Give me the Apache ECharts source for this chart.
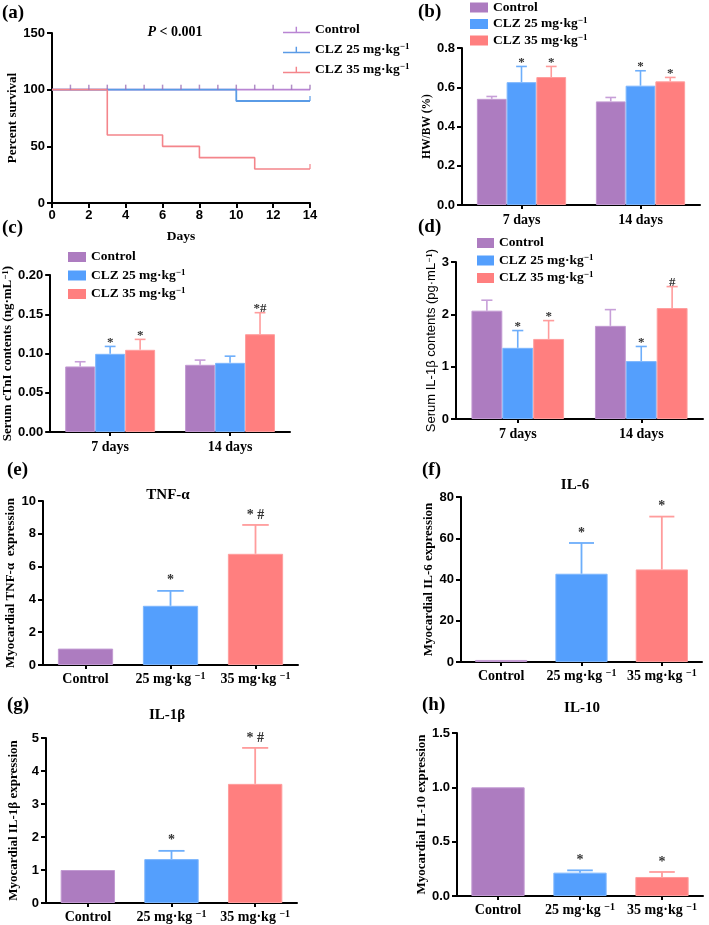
<!DOCTYPE html>
<html><head><meta charset="utf-8">
<script src="https://cdn.jsdelivr.net/npm/echarts@6/dist/echarts.min.js"></script>
<style>html,body{margin:0;padding:0;background:#fff}#c{width:709px;height:925px}</style>
</head><body><div id="c"></div>
<script>
// ================= DATA =================
const groupNames = ['Control', 'CLZ 25 mg·kg−1', 'CLZ 35 mg·kg−1'];

// (a) Kaplan–Meier survival
const survDaysControl = [0, 14];
const survControl = [100, 100];
const survDays25 = [0, 10, 14];
const surv25 = [100, 90, 90];
const survDays35 = [0, 3, 6, 8, 11, 14];
const surv35 = [100, 60, 50, 40, 30, 30];
const censorDaysControl = [1, 2, 3, 4, 5, 6, 7, 8, 9, 10, 11, 12, 13, 14];
const censorDays25 = [14];
const censorDays35 = [14];
const pValueText = '{i|P} < 0.001';

// (b)(c)(d) time groups
const timeCats = ['7 days', '14 days'];
// (b) HW/BW (%)
const hwbwControl = [0.541, 0.528], hwbwControlSD = [0.012, 0.020];
const hwbw25 = [0.626, 0.608], hwbw25SD = [0.080, 0.076];
const hwbw35 = [0.652, 0.630], hwbw35SD = [0.054, 0.020];
const hwbwMarks25 = ['*', '*'], hwbwMarks35 = ['*', '*'];
// (c) Serum cTnI
const ctniControl = [0.0835, 0.0856], ctniControlSD = [0.006, 0.006];
const ctni25 = [0.0996, 0.0881], ctni25SD = [0.0094, 0.0085];
const ctni35 = [0.1047, 0.1246], ctni35SD = [0.0133, 0.0274];
const ctniMarks25 = ['*', ''], ctniMarks35 = ['*', '*#'];
// (d) Serum IL-1β
const il1bSerumControl = [2.07, 1.78], il1bSerumControlSD = [0.20, 0.31];
const il1bSerum25 = [1.36, 1.106], il1bSerum25SD = [0.33, 0.28];
const il1bSerum35 = [1.53, 2.12], il1bSerum35SD = [0.35, 0.41];
const il1bSerumMarks25 = ['*', '*'], il1bSerumMarks35 = ['*', '#'];

// (e)-(h) myocardial expression
const doseCats = ['Control', '25 mg·kg−1', '35 mg·kg−1'];
const tnfMean = [1.0, 3.61, 6.78], tnfSD = [0, 0.91, 1.76], tnfMarks = ['', '*', '* #'];
const il6Mean = [1.0, 42.8, 44.9], il6SD = [0, 14.9, 25.6], il6Marks = ['', '*', '*'];
const il1bMean = [1.0, 1.33, 3.61], il1bSD = [0, 0.25, 1.09], il1bMarks = ['', '*', '* #'];
const il10Mean = [1.0, 0.215, 0.175], il10SD = [0, 0.021, 0.046], il10Marks = ['', '*', '*'];

// ================= STYLE =================
const barColors = ['#AD7CC0', '#549FFD', '#FF7F7F'];
const barBorders = ['#C29AD2', '#7DB6FD', '#FF9E9E'];
const errColors = ['#C79FD8', '#6DAEFB', '#FF9C9C'];
const lineColors = ['#B985D3', '#5A9BE6', '#F4858B'];
const censorColor = '#9E72B8';
const SERIF = '"Liberation Serif","Times New Roman",serif';
const SANS = '"Liberation Sans",Arial,sans-serif';
const supRich = (fs) => ({ s: { fontSize: fs, fontWeight: 'bold', fontFamily: SERIF, verticalAlign: 'top', lineHeight: fs, color: '#000' } });
const sup = (t) => t.replace('−1', '{s|−1}');

const grids = [
  { left: 52, top: 33, width: 258, height: 170 },   // a
  { left: 462, top: 48, width: 238, height: 157 },  // b
  { left: 49, top: 275, width: 241, height: 157 },  // c
  { left: 456, top: 262, width: 247, height: 157 }, // d
  { left: 43, top: 501, width: 255, height: 164 },  // e
  { left: 461, top: 497, width: 241, height: 165 }, // f
  { left: 46, top: 738, width: 251, height: 165 },  // g
  { left: 457, top: 733, width: 246, height: 163 }  // h
];

const axLine = { show: true, onZero: false, lineStyle: { color: '#000', width: 2 } };
const axTick = { show: true, length: 5, lineStyle: { color: '#000', width: 2 } };
const tickLabel = { color: '#000', fontFamily: SANS, fontWeight: 'bold', fontSize: 13 };

function yAx(gi, max, interval, name, gap, decimals, nameStyle) {
  return {
    type: 'value', gridIndex: gi, min: 0, max: max, interval: interval,
    axisLine: axLine, axisTick: axTick, splitLine: { show: false },
    axisLabel: Object.assign({ margin: 7, formatter: v => v.toFixed(decimals) }, tickLabel),
    name: name, nameLocation: 'middle', nameRotate: 90, nameGap: gap,
    nameTextStyle: Object.assign({ color: '#000', rich: supRich(9) }, nameStyle)
  };
}
const serifName = (fs) => ({ fontFamily: SERIF, fontWeight: 'bold', fontSize: fs });

function catAx(gi, cats, fs, margin) {
  return {
    type: 'category', gridIndex: gi, data: cats,
    axisLine: axLine, axisTick: { show: true, alignWithLabel: true, length: 4, lineStyle: { color: '#000', width: 2 } },
    axisLabel: {
      margin: margin, interval: 0, color: '#000', fontFamily: SERIF, fontWeight: 'bold', fontSize: fs, lineHeight: 16,
      formatter: v => v.replace('−1', ' {s|−1}'), rich: supRich(10)
    }
  };
}

function errSeries(gi, means, sds, marks, k, n, gap, color, capRatio, markOff) {
  return {
    type: 'custom', xAxisIndex: gi, yAxisIndex: gi, z: 5, silent: true,
    data: means.map((m, i) => [i, m, m + sds[i]]),
    renderItem: function (params, api) {
      const i = api.value(0);
      const b = api.coord([i, api.value(1)]);
      const t = api.coord([i, api.value(2)]);
      const band = api.size([1, 0])[0];
      const gw = band * (1 - gap), bw = gw / n;
      const x = b[0] - gw / 2 + bw * (k + 0.5);
      const cap = bw * capRatio;
      const ch = [];
      if (api.value(2) > api.value(1)) {
        ch.push({ type: 'line', shape: { x1: x, y1: b[1], x2: x, y2: t[1] }, style: { stroke: color, lineWidth: 1.6 } });
        ch.push({ type: 'line', shape: { x1: x - cap / 2, y1: t[1], x2: x + cap / 2, y2: t[1] }, style: { stroke: color, lineWidth: 1.6 } });
      }
      const mk = marks[params.dataIndex];
      if (mk) ch.push({ type: 'text', x: x, y: t[1] - markOff, style: { text: mk, fontFamily: SERIF, fontWeight: 'bold', fontSize: 13, fill: '#333', align: 'center', verticalAlign: 'middle' } });
      return { type: 'group', children: ch };
    }
  };
}

function groupedBars(gi, sets) {
  const out = [];
  sets.forEach((s, k) => {
    out.push({
      type: 'bar', name: groupNames[k], xAxisIndex: gi, yAxisIndex: gi, data: s.mean,
      barGap: '0%', barCategoryGap: '25%', itemStyle: { color: barColors[k], borderColor: barBorders[k], borderWidth: 1 }, z: 2
    });
  });
  sets.forEach((s, k) => {
    out.push(errSeries(gi, s.mean, s.sd, s.marks, k, 3, 0.25, errColors[k], 0.36, 4));
  });
  return out;
}

function doseBars(gi, mean, sd, marks) {
  return [
    {
      type: 'bar', xAxisIndex: gi, yAxisIndex: gi, barCategoryGap: '35%', z: 2,
      data: mean.map((v, i) => ({ value: v, itemStyle: { color: barColors[i], borderColor: barBorders[i], borderWidth: 1 } }))
    },
    {
      type: 'custom', xAxisIndex: gi, yAxisIndex: gi, z: 5, silent: true,
      data: mean.map((m, i) => [i, m, m + sd[i]]),
      renderItem: function (params, api) {
        const i = params.dataIndex;
        const b = api.coord([i, api.value(1)]);
        const t = api.coord([i, api.value(2)]);
        const bw = api.size([1, 0])[0] * 0.65;
        const cap = bw * 0.48, x = b[0];
        const ch = [];
        if (api.value(2) > api.value(1)) {
          ch.push({ type: 'line', shape: { x1: x, y1: b[1], x2: x, y2: t[1] }, style: { stroke: errColors[i], lineWidth: 1.8 } });
          ch.push({ type: 'line', shape: { x1: x - cap / 2, y1: t[1], x2: x + cap / 2, y2: t[1] }, style: { stroke: errColors[i], lineWidth: 1.8 } });
        }
        if (marks[i]) ch.push({ type: 'text', x: x, y: t[1] - 10, style: { text: marks[i], fontFamily: SERIF, fontWeight: 'bold', fontSize: 14, fill: '#333', align: 'center', verticalAlign: 'middle' } });
        return { type: 'group', children: ch };
      }
    }
  ];
}

const zip = (xs, ys) => xs.map((x, i) => [x, ys[i]]);
function stepValue(days, vals, d) { let v = vals[0]; days.forEach((x, i) => { if (x <= d) v = vals[i]; }); return v; }

function survLine(name, days, vals, color, w) {
  return { type: 'line', name: name, xAxisIndex: 0, yAxisIndex: 0, step: 'end', data: zip(days, vals), showSymbol: false, lineStyle: { color: color, width: w }, itemStyle: { color: color }, z: 3, silent: true };
}
function censor(days, sDays, sVals, color) {
  return { type: 'scatter', xAxisIndex: 0, yAxisIndex: 0, symbol: 'rect', symbolSize: [1.5, 5], symbolOffset: [0, -2.5], itemStyle: { color: color }, data: days.map(d => [d, stepValue(sDays, sVals, d)]), z: 4, silent: true };
}

function legendCfg(left, top, iw, ih, gap, icon, colorsArr) {
  return {
    orient: 'vertical', left: left, top: top, padding: 0, itemWidth: iw, itemHeight: ih, itemGap: gap,
    icon: icon, selectedMode: false,
    data: groupNames.map((n, i) => ({ name: n, itemStyle: { color: colorsArr[i], borderWidth: 0 } })),
    formatter: n => sup(n),
    textStyle: { color: '#000', fontFamily: SERIF, fontWeight: 'bold', fontSize: 13.5, lineHeight: 15, rich: supRich(9) }
  };
}

const option = {
  animation: false,
  backgroundColor: '#fff',
  grid: grids,
  legend: [
    legendCfg(283, 22.5, 27, 7, 5, 'path://M0,5.5H30V7H0Z M14,0H15.6V7H14Z', lineColors),
    legendCfg(470, 0, 18, 10, 1.5, 'rect', barColors),
    legendCfg(68, 249.5, 18, 10, 3.5, 'rect', barColors),
    legendCfg(477, 235.5, 17, 10, 2.5, 'rect', barColors)
  ],
  xAxis: [
    {
      type: 'value', gridIndex: 0, min: 0, max: 14, interval: 2,
      axisLine: axLine, axisTick: axTick, splitLine: { show: false },
      axisLabel: Object.assign({ margin: 6 }, tickLabel),
      name: 'Days', nameLocation: 'middle', nameGap: 27,
      nameTextStyle: { color: '#000', fontFamily: SERIF, fontWeight: 'bold', fontSize: 13.5 }
    },
    catAx(1, timeCats, 14, 7),
    catAx(2, timeCats, 14, 7),
    catAx(3, timeCats, 14, 7),
    catAx(4, doseCats, 14, 6),
    catAx(5, doseCats, 14, 6),
    catAx(6, doseCats, 14, 6),
    catAx(7, doseCats, 14, 6)
  ],
  yAxis: [
    yAx(0, 150, 50, 'Percent survival', 30, 0, serifName(13)),
    yAx(1, 0.8, 0.2, 'HW/BW (%)', 25, 1, serifName(11.5)),
    yAx(2, 0.2, 0.05, 'Serum cTnI contents (ng·mL{s|−1})', 29, 2, serifName(13)),
    yAx(3, 3, 1, 'Serum IL-1β contents (pg·mL{s|−1})', 14, 0, { fontFamily: SANS, fontSize: 13 }),
    yAx(4, 10, 2, 'Myocardial TNF-α  expression', 19, 0, serifName(13)),
    yAx(5, 80, 20, 'Myocardial IL-6 expression', 25, 0, serifName(13)),
    yAx(6, 5, 1, 'Myocardial IL-1β expression', 26, 0, serifName(13)),
    yAx(7, 1.5, 0.5, 'Myocardial IL-10 expression', 27, 1, serifName(13))
  ],
  series: [].concat(
    groupedBars(1, [
      { mean: hwbwControl, sd: hwbwControlSD, marks: ['', ''] },
      { mean: hwbw25, sd: hwbw25SD, marks: hwbwMarks25 },
      { mean: hwbw35, sd: hwbw35SD, marks: hwbwMarks35 }
    ]),
    groupedBars(2, [
      { mean: ctniControl, sd: ctniControlSD, marks: ['', ''] },
      { mean: ctni25, sd: ctni25SD, marks: ctniMarks25 },
      { mean: ctni35, sd: ctni35SD, marks: ctniMarks35 }
    ]),
    groupedBars(3, [
      { mean: il1bSerumControl, sd: il1bSerumControlSD, marks: ['', ''] },
      { mean: il1bSerum25, sd: il1bSerum25SD, marks: il1bSerumMarks25 },
      { mean: il1bSerum35, sd: il1bSerum35SD, marks: il1bSerumMarks35 }
    ]),
    [
      survLine(groupNames[0], survDaysControl, survControl, lineColors[0], 1.6),
      survLine(groupNames[1], survDays25, surv25, lineColors[1], 1.8),
      survLine(groupNames[2], survDays35, surv35, lineColors[2], 1.6),
      censor(censorDaysControl, survDaysControl, survControl, censorColor),
      censor(censorDays25, survDays25, surv25, lineColors[1]),
      censor(censorDays35, survDays35, surv35, lineColors[2])
    ],
    doseBars(4, tnfMean, tnfSD, tnfMarks),
    doseBars(5, il6Mean, il6SD, il6Marks),
    doseBars(6, il1bMean, il1bSD, il1bMarks),
    doseBars(7, il10Mean, il10SD, il10Marks)
  ),
  graphic: [
    ['(a)', 2, 13], ['(b)', 418, 12], ['(c)', 2, 228], ['(d)', 418, 227],
    ['(e)', 7, 470], ['(f)', 422, 470], ['(g)', 7, 705], ['(h)', 422, 705]
  ].map(p => ({ type: 'text', x: p[1], y: p[2], style: { text: p[0], fontFamily: SERIF, fontWeight: 'bold', fontSize: 19, fill: '#000', align: 'left', verticalAlign: 'middle' } }))
    .concat([
      ['TNF-α', 168, 495], ['IL-6', 575, 485], ['IL-1β', 167, 715], ['IL-10', 582, 708]
    ].map(p => ({ type: 'text', x: p[1], y: p[2], style: { text: p[0], fontFamily: SERIF, fontWeight: 'bold', fontSize: 15, fill: '#000', align: 'center', verticalAlign: 'middle' } })))
    .concat([{
      type: 'text', x: 175, y: 32,
      style: { text: pValueText, fontFamily: SERIF, fontWeight: 'bold', fontSize: 14, fill: '#000', align: 'center', verticalAlign: 'middle',
        rich: { i: { fontStyle: 'italic', fontFamily: SERIF, fontWeight: 'bold', fontSize: 14, fill: '#000' } } }
    }])
};

const chart = echarts.init(document.getElementById('c'));
chart.setOption(option);
</script>
</body></html>
